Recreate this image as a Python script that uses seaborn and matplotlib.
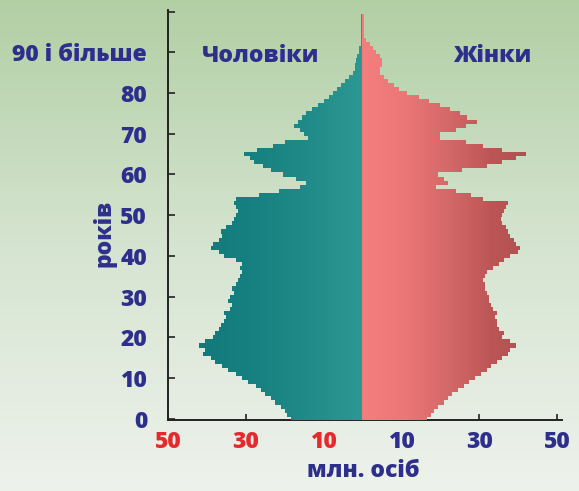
import numpy as np
import pandas as pd
import matplotlib
matplotlib.use("Agg")
import matplotlib.pyplot as plt
import seaborn as sns
from matplotlib.path import Path
from matplotlib.patches import PathPatch
from matplotlib.colors import LinearSegmentedColormap

# вік, роки
ages = list(range(0, 100))

# чоловіки (ліва частина), млн. осіб
men = [18.5, 19.5, 20, 21, 22.5, 23.5, 25, 26, 27.5, 29.5,
       31, 32.5, 34.5, 36, 38, 39, 41, 40.5, 42, 40.5,
       38.5, 38, 37, 36.5, 35.5, 35, 35.5, 34, 33.5, 34.5,
       34, 33, 33.5, 32.5, 32, 31.5, 31, 31.5, 31, 32.5,
       35.5, 37, 39, 38.5, 37, 36, 36.5, 35, 33.5, 33,
       32.5, 32, 32.5, 33, 32.5, 26.5, 21.5, 16, 14.5, 17,
       20.5, 23.5, 25.5, 28, 29, 30.5, 27, 23, 20, 14,
       15, 16, 17.5, 16.5, 15.5, 14.5, 13, 11.5, 10, 8.5,
       7.5, 6.5, 5.5, 4.5, 3.5, 2.5, 2, 1.8, 1.6, 1.3,
       1, 0.8, 0.5, 0.4, 0.3, 0.3, 0.3, 0.3, 0.3, 0.3]

# жінки (права частина), млн. осіб
women = [16.5, 17.5, 18.5, 19.5, 21, 22, 23, 24.5, 26, 27.5,
         29, 30.5, 32, 33, 34.5, 36, 37.5, 38, 39.5, 38,
         36, 36.5, 35, 34.5, 34.5, 34, 34.5, 33.5, 33, 32.5,
         32.5, 32, 31.5, 31.5, 31, 31.5, 32, 33.5, 35, 36.5,
         38, 40, 40.5, 39.5, 39, 38, 37.5, 37, 36, 35.5,
         36, 36.5, 37, 37.5, 31, 28, 24, 19, 22, 21,
         19.5, 25.5, 32, 36, 39.5, 42, 36, 31, 26.5, 20,
         20, 24, 26.5, 29.5, 27, 25, 22.5, 20, 17, 14.5,
         11.5, 9.5, 8, 6.5, 5.5, 4.5, 4.5, 5, 5, 4.5,
         3.5, 2.8, 2, 1, 0.5, 0.3, 0.3, 0.3, 0.3, 0.3]

x_ticks = [-50, -30, -10, 10, 30, 50]
x_labels = ["50", "30", "10", "10", "30", "50"]
y_ticks = [0, 10, 20, 30, 40, 50, 60, 70, 80, 90, 100]
y_labels = ["0", "10", "20", "30", "40", "50", "60", "70", "80", "90 і більше", ""]

navy = "#2e2f8c"
red = "#e52a2d"
wt = "heavy"
fs = 16.5

sns.set_style("white")
plt.rcParams["font.family"] = ["Open Sans", "DejaVu Sans"]
plt.rcParams["font.weight"] = wt

df = pd.DataFrame({"age": ages, "men": -np.array(men), "women": women})

fig = plt.figure(figsize=(5.79, 4.91), dpi=100)

# фон - зелений градієнт
bg = fig.add_axes([0, 0, 1, 1], zorder=-1)
grad_v = np.linspace(0, 1, 256).reshape(-1, 1)
bg_cmap = LinearSegmentedColormap.from_list("bg", ["#b2cfa4", "#d5e4d0", "#eef2ec"])
bg.imshow(grad_v, aspect="auto", cmap=bg_cmap, extent=[0, 1, 0, 1])
bg.axis("off")

ax = fig.add_axes([168 / 579, 71 / 491, 394 / 579, 410 / 491])
ax.set_facecolor("none")

sns.barplot(data=df, x="men", y="age", orient="h", native_scale=True, width=1,
            color="#1f8884", saturation=1, linewidth=0, errorbar=None, ax=ax)
n_men = len(ax.patches)
sns.barplot(data=df, x="women", y="age", orient="h", native_scale=True, width=1,
            color="#e57070", saturation=1, linewidth=0, errorbar=None, ax=ax)
men_bars = ax.patches[:n_men]
women_bars = ax.patches[n_men:]


def shade(bars, colors, x0, x1):
    paths = [b.get_path().transformed(b.get_patch_transform()) for b in bars]
    clip = PathPatch(Path.make_compound_path(*paths), transform=ax.transData,
                     facecolor="none", edgecolor="none")
    ax.add_patch(clip)
    cmap = LinearSegmentedColormap.from_list("g", colors)
    im = ax.imshow(np.linspace(0, 1, 256).reshape(1, -1), extent=[x0, x1, -0.5, 100],
                   aspect="auto", cmap=cmap, zorder=3, interpolation="bilinear")
    im.set_clip_path(clip)


shade(men_bars, ["#11787a", "#168080", "#1f8a87", "#2d9893"], -44, 0)
shade(women_bars, ["#f47e7d", "#ec7777", "#d56868", "#bc5656", "#b04e4e"], 0, 44)

ax.set_xlim(-50, 51.3)
ax.set_ylim(-0.3, 100.4)
ax.set_xticks(x_ticks)
ax.set_xticklabels(x_labels)
ax.set_yticks(y_ticks)
ax.set_yticklabels(y_labels)
for lbl, c in zip(ax.get_xticklabels(), [red, red, red, navy, navy, navy]):
    lbl.set_color(c)
ax.tick_params(axis="x", direction="in", length=4, width=1.2, pad=7, labelsize=fs, color="#222222")
ax.tick_params(axis="y", direction="in", length=5, width=1.2, pad=15, labelsize=fs,
               labelcolor=navy, color="#222222")
ax.tick_params(bottom=True, left=True)
for lbl in ax.get_xticklabels() + ax.get_yticklabels():
    lbl.set_fontweight(wt)

sns.despine(ax=ax, top=True, right=True)
ax.spines["left"].set_color("#222222")
ax.spines["bottom"].set_color("#222222")
ax.spines["left"].set_linewidth(1.4)
ax.spines["bottom"].set_linewidth(1.4)
ax.set_xlabel("")
ax.set_ylabel("")

fig.text(261 / 579, 1 - 56 / 491, "Чоловіки", color=navy, fontsize=fs,
         fontweight=wt, ha="center", va="center")
fig.text(492 / 579, 1 - 56 / 491, "Жінки", color=navy, fontsize=fs,
         fontweight=wt, ha="center", va="center")
fig.text(363 / 579, 1 - 471 / 491, "млн. осіб", color=navy, fontsize=fs,
         fontweight=wt, ha="center", va="center")
fig.text(104 / 579, 1 - 233 / 491, "років", color=navy, fontsize=fs,
         fontweight=wt, ha="center", va="center", rotation=90)

fig.savefig("out.png", dpi=100)
